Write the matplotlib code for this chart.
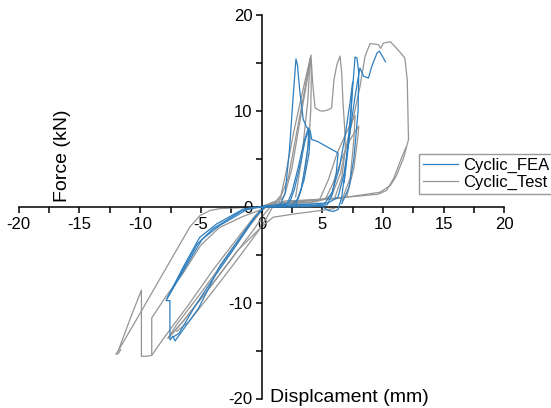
import matplotlib
matplotlib.use('Agg')
import matplotlib.pyplot as plt
from matplotlib.ticker import MultipleLocator

plt.rcParams['font.family'] = ['Liberation Sans', 'DejaVu Sans']
plt.rcParams['axes.unicode_minus'] = False

# ---- Cyclic_FEA (blue) branches, displacement (mm) / force (kN) ----
fea_a_x = [0.0, 0.8, 1.6, 1.95, 2.3, 2.6, 2.83, 2.95, 3.15, 3.43, 3.7, 4.0, 4.13, 4.6, 5.3, 6.3, 6.15, 5.8, 5.4, 4.0, 1.0, -0.3]
fea_a_y = [0.0, 0.1, 0.3, 1.5, 6.0, 11.5, 15.4, 14.8, 12.0, 9.1, 8.3, 7.9, 7.0, 6.8, 6.3, 5.6, 3.5, 1.2, 0.2, 0.0, -0.05, -0.1]
fea_b_x = [0.0, 1.2, 2.1, 2.5, 3.0, 3.5, 3.85, 4.0, 3.9, 3.5, 3.0, 2.4]
fea_b_y = [0.0, 0.1, 0.3, 1.5, 4.0, 6.8, 8.2, 7.6, 5.5, 2.8, 0.8, 0.1]
fea_c_x = [0.0, 1.5, 2.3, 2.7, 3.2, 3.6, 3.9, 3.8, 3.3, 2.8]
fea_c_y = [0.0, 0.1, 0.4, 1.8, 4.5, 7.0, 8.0, 6.0, 2.0, 0.2]
fea_d_x = [0.0, 2.0, 4.0, 5.0, 5.5, 5.9, 6.3, 6.6, 7.0, 7.35, 7.6, 7.7, 7.85, 8.0, 7.95, 7.6, 7.2, 6.6]
fea_d_y = [0.0, 0.15, 0.2, 0.0, -0.4, -0.5, -0.3, 1.0, 5.0, 10.0, 14.0, 15.6, 15.5, 14.0, 10.0, 5.0, 2.0, 0.3]
fea_e_x = [0.0, 3.0, 5.5, 6.3, 6.8, 7.3, 7.7, 8.0, 8.1, 8.4, 8.8, 9.07, 9.5, 9.7, 9.9, 10.2]
fea_e_y = [0.0, 0.2, 0.4, 1.0, 3.5, 8.0, 11.5, 13.8, 14.45, 13.6, 13.4, 14.6, 16.0, 16.2, 15.8, 15.1]
fea_f_x = [0.0, 4.0, 5.2, 5.8, 6.4, 6.9, 7.3, 7.5, 7.3, 6.8]
fea_f_y = [0.0, 0.1, 0.3, 1.5, 4.0, 7.5, 11.0, 13.0, 8.0, 2.5]
# negative side
fea_n1_x = [0.3, -0.5, -1.5, -3.7, -5.1, -6.5, -7.87, -7.55, -7.55, -7.3, -7.13, -5.2, -3.4, -0.68, 0.3]
fea_n1_y = [0.0, -0.05, -0.25, -1.8, -3.2, -6.4, -9.8, -9.8, -13.9, -13.5, -14.0, -10.6, -6.1, -1.26, 0.0]
fea_n2_x = [0.2, -0.6, -1.6, -4.0, -5.3, -6.8, -7.8]
fea_n2_y = [0.0, -0.1, -0.4, -2.3, -3.9, -7.3, -9.6]
fea_n3_x = [0.1, -0.4, -1.2, -3.5, -4.9, -6.4, -7.7]
fea_n3_y = [0.0, -0.1, -0.3, -2.0, -3.4, -6.6, -9.4]
fea_n4_x = [0.5, -0.2, -1.0, -2.5, -4.0, -5.5, -6.8, -7.3]
fea_n4_y = [0.1, -0.5, -2.0, -4.8, -7.5, -10.4, -13.2, -13.6]

# ---- Cyclic_Test (gray) branches ----
test_a_x = [0.0, 0.6, 1.2, 1.6, 2.0, 2.6, 3.2, 3.7, 4.07, 4.2, 4.4, 4.8, 5.08, 5.5, 5.77, 5.96, 6.2, 6.46, 6.6, 6.7, 6.85, 6.9, 6.6, 6.0]
test_a_y = [0.0, 0.3, 0.6, 1.2, 3.5, 7.5, 11.0, 13.8, 15.8, 13.0, 10.3, 10.0, 9.96, 10.1, 10.3, 13.2, 14.8, 15.7, 13.9, 11.0, 8.0, 6.0, 3.0, 0.8]
test_b_x = [0.0, 1.0, 1.5, 2.2, 3.0, 3.6, 4.0, 4.1, 4.05, 3.9, 3.6, 3.2, 2.8]
test_b_y = [0.0, 0.4, 0.8, 3.0, 8.5, 12.5, 15.5, 14.0, 10.0, 7.0, 4.0, 1.5, 0.3]
test_c_x = [0.0, 1.4, 1.9, 2.5, 3.1, 3.7, 4.0, 3.8, 3.3, 2.8]
test_c_y = [0.0, 0.5, 1.2, 4.0, 8.5, 12.8, 15.3, 11.0, 5.0, 1.0]
test_d_x = [0.0, 2.5, 4.5, 5.3, 5.9, 6.6, 7.3, 7.8, 8.0, 7.95, 7.6, 7.0]
test_d_y = [0.0, 0.4, 0.5, 0.9, 2.5, 5.0, 7.0, 8.0, 8.4, 7.5, 4.0, 1.0]
test_e_x = [0.0, 2.0, 4.0, 4.8, 5.5, 6.2, 6.9, 7.4, 7.7, 7.6, 7.3, 6.6]
test_e_y = [0.0, 0.3, 0.4, 0.8, 2.8, 5.5, 7.5, 8.8, 9.5, 7.0, 3.0, 0.6]
test_f_x = [0.0, 3.0, 5.0, 5.8, 6.5, 7.0, 7.6, 8.1, 8.52, 8.93, 9.6, 9.8, 10.03, 10.6, 11.2, 11.8, 12.0, 12.05, 12.1, 11.7, 11.1, 10.6, 9.75, 6.0, 2.0, 0.0]
test_f_y = [0.0, 0.5, 0.7, 1.2, 3.5, 6.5, 9.5, 12.5, 15.66, 17.0, 16.9, 16.5, 17.05, 17.2, 16.4, 15.5, 13.2, 10.0, 7.0, 5.1, 3.2, 2.2, 1.5, 0.8, 0.6, 0.0]
test_g_x = [1.5, 4.0, 6.0, 8.0, 9.6, 10.3, 10.9, 11.5, 11.9]
test_g_y = [0.4, 0.7, 0.9, 1.1, 1.3, 1.7, 3.0, 5.0, 6.2]
# negative side
test_n1_x = [0.5, -0.5, -1.5, -3.4, -4.25, -5.07, -5.9, -8.0, -10.0, -11.66, -12.0, -11.8, -11.6]
test_n1_y = [0.0, -0.1, -0.1, -0.2, -0.4, -0.92, -2.1, -6.7, -11.1, -14.7, -15.4, -15.3, -14.9]
test_n2_x = [0.0, -1.5, -3.5, -5.0, -6.5, -7.9, -9.05, -9.05, -9.5, -9.9, -9.9, -10.8, -11.8]
test_n2_y = [-0.3, -1.0, -2.2, -4.0, -7.0, -9.4, -11.6, -15.5, -15.6, -15.6, -8.7, -11.6, -15.0]
test_n3_x = [-9.05, -8.0, -6.0, -4.0, -2.0, -0.5, 0.3]
test_n3_y = [-15.5, -13.6, -10.2, -6.6, -3.3, -0.9, 0.0]
test_n4_x = [0.4, -0.1, -1.0, -3.0, -5.0, -7.0, -7.7, -7.5]
test_n4_y = [0.0, -0.6, -2.0, -5.5, -9.0, -12.3, -13.7, -13.4]
test_n5_x = [0.8, 0.2, -0.6, -2.5, -4.5, -6.5, -7.4]
test_n5_y = [0.1, -0.8, -2.3, -5.5, -8.8, -12.0, -13.3]
test_n6_x = [1.0, 0.4, -0.3, -2.0, -4.0, -6.0, -7.0]
test_n6_y = [0.2, -1.2, -2.6, -5.5, -8.8, -12.0, -13.0]
test_n7_x = [-7.7, -6.5, -4.0, -2.0, 0.0, 0.96, 2.75, 4.9, 6.0]
test_n7_y = [-13.7, -12.0, -8.0, -4.6, -2.1, -1.1, -0.75, -0.4, -0.2]

fea_branches = [(fea_a_x, fea_a_y), (fea_b_x, fea_b_y), (fea_c_x, fea_c_y),
                (fea_d_x, fea_d_y), (fea_e_x, fea_e_y), (fea_f_x, fea_f_y),
                (fea_n1_x, fea_n1_y), (fea_n2_x, fea_n2_y), (fea_n3_x, fea_n3_y),
                (fea_n4_x, fea_n4_y)]
test_branches = [(test_a_x, test_a_y), (test_b_x, test_b_y), (test_c_x, test_c_y),
                 (test_d_x, test_d_y), (test_e_x, test_e_y), (test_f_x, test_f_y),
                 (test_g_x, test_g_y), (test_n1_x, test_n1_y), (test_n2_x, test_n2_y),
                 (test_n3_x, test_n3_y), (test_n4_x, test_n4_y), (test_n5_x, test_n5_y),
                 (test_n6_x, test_n6_y), (test_n7_x, test_n7_y)]

BLUE = '#2f7fbf'
GRAY = '#959595'

fig = plt.figure(figsize=(5.51, 4.08), dpi=100)
# axes box (pixels): x 18.8..504.4, y 14.8..398.5
ax = fig.add_axes([18.8/551, 1-398.5/408, (504.4-18.8)/551, (398.5-14.8)/408])

for i, (x, y) in enumerate(fea_branches):
    ax.plot(x, y, color=BLUE, lw=0.9, zorder=3, label='Cyclic_FEA' if i == 0 else None)
for i, (x, y) in enumerate(test_branches):
    ax.plot(x, y, color=GRAY, lw=0.9, zorder=2, label='Cyclic_Test' if i == 0 else None)

ax.set_xlim(-20, 20)
ax.set_ylim(-20, 20)
for s in ['top', 'right']:
    ax.spines[s].set_visible(False)
for s in ['left', 'bottom']:
    ax.spines[s].set_position(('data', 0))
    ax.spines[s].set_linewidth(1.1)

ax.xaxis.set_major_locator(MultipleLocator(5))
ax.xaxis.set_minor_locator(MultipleLocator(2.5))
ax.yaxis.set_major_locator(MultipleLocator(10))
ax.yaxis.set_minor_locator(MultipleLocator(5))
ax.tick_params(which='both', direction='out', length=4.5, width=1.1, labelsize=12, pad=2)
ax.tick_params(axis='x', which='major', pad=3)

fig.text(270/551, 1-402/408, 'Displcament (mm)', fontsize=14, va='baseline', ha='left')
fig.text(62.5/551, 1-156/408, 'Force (kN)', fontsize=14, rotation=90, va='center', ha='center')

ax.legend(loc='upper left', bbox_to_anchor=(419/551, 1-154/408), bbox_transform=fig.transFigure,
          borderaxespad=0, fontsize=12, frameon=True, fancybox=False, framealpha=1,
          edgecolor='#999999', handlelength=2.1, handletextpad=0.3, labelspacing=0.1, borderpad=0.25)

plt.savefig('out.png', dpi=100)
